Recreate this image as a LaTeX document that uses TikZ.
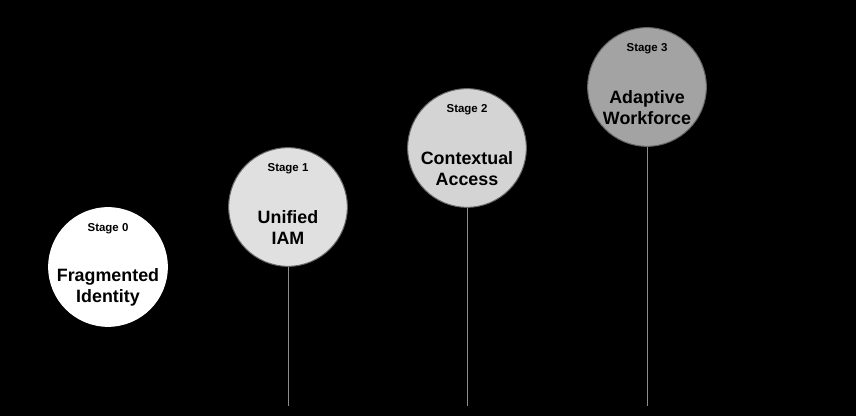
\documentclass[tikz,border=0pt]{standalone}
\usepackage{fontspec}
\setmainfont{Liberation Sans}
\definecolor{rim}{HTML}{666666}
\definecolor{stem}{HTML}{8C8C8C}
\definecolor{fillA}{HTML}{E0E0E0}
\definecolor{fillB}{HTML}{D4D4D4}
\definecolor{fillC}{HTML}{A3A3A3}

\begin{document}
\begin{tikzpicture}[x=0.75pt, y=0.75pt,
  lbl/.style={inner sep=0pt, font=\bfseries\fontsize{8.6}{10}\selectfont},
  ttl/.style={inner sep=0pt, align=center, font=\bfseries\fontsize{13.4}{15.5}\selectfont}]
\tikzstyle{stg}=[circle, draw=rim, line width=0.75pt, minimum size=89pt, inner sep=0pt]
\fill[black] (0,0) rectangle (856,416);
\useasboundingbox (0,0) rectangle (856,416);
\node[stg, fill=white, draw=white] (S0) at (108,149){};
\node[stg, fill=fillA] (S1) at (288,209){};
\node[stg, fill=fillB] (S2) at (467,268){};
\node[stg, fill=fillC] (S3) at (647,329){};
\foreach \i in {0,1,2,3}{
  \node[lbl] (N\i) at ([yshift=29pt]S\i.center){Stage \i};}
\node[ttl] (T0) at ([yshift=-15.5pt]S0.center){Fragmented\\Identity};
\node[ttl] (T1) at ([yshift=-15.5pt]S1.center){Unified\\IAM};
\node[ttl] (T2) at ([yshift=-15.5pt]S2.center){Contextual\\Access};
\node[ttl] (T3) at ([yshift=-15.5pt]S3.center){Adaptive\\Workforce};
\coordinate (E1) at (288,10);
\coordinate (E2) at (467,10);
\coordinate (E3) at (647,10);
\foreach \i in {1,2,3}{\draw[stem, line width=0.75pt] (S\i.south) -- (E\i);}
\end{tikzpicture}
\end{document}
